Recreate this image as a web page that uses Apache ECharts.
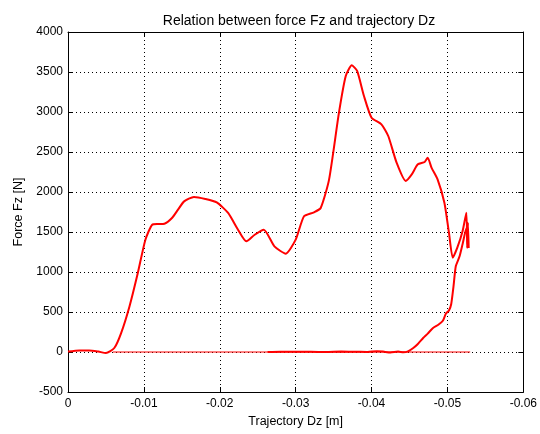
<!DOCTYPE html>
<html>
<head>
<meta charset="utf-8">
<script src="https://cdn.jsdelivr.net/npm/echarts@6/dist/echarts.min.js"></script>
<style>html,body{margin:0;padding:0;background:#fff}#c{width:540px;height:434px}</style>
</head>
<body>
<div id="c"></div>
<script>
// Forward trace (loading)
const dzForward = [0, -0.0015, -0.0028, -0.0040, -0.0050, -0.0061, -0.0070, -0.0081, -0.0092, -0.0102, -0.0111, -0.0119, -0.0127, -0.0137, -0.0145, -0.0153, -0.0166, -0.0181, -0.0196, -0.0211, -0.0224, -0.0235, -0.0246, -0.0258, -0.0272, -0.0287, -0.0300, -0.0311, -0.0324, -0.0333, -0.0344, -0.0357, -0.0366, -0.0374, -0.0381, -0.0390, -0.0400, -0.0413, -0.0422, -0.0433, -0.0445, -0.0453, -0.0461, -0.0470, -0.0474, -0.0479, -0.0487, -0.0496, -0.0502, -0.0507, -0.0513, -0.0520, -0.0525, -0.0526, -0.0527, -0.0528];
const fzForward = [5, 20, 20, 5, -13, 50, 237, 570, 988, 1404, 1591, 1600, 1604, 1675, 1780, 1883, 1938, 1913, 1870, 1738, 1529, 1383, 1466, 1529, 1321, 1229, 1404, 1696, 1746, 1800, 2154, 2988, 3450, 3584, 3513, 3200, 2929, 2846, 2700, 2367, 2138, 2221, 2346, 2375, 2429, 2304, 2158, 1866, 1491, 1179, 1304, 1513, 1742, 1300, 1617, 1300];
// Return trace (unloading)
const dzReturn = [-0.0525, -0.0520, -0.0516, -0.0511, -0.0508, -0.0505, -0.0502, -0.0498, -0.0494, -0.0488, -0.0481, -0.0474, -0.0468, -0.0461, -0.0455, -0.0448, -0.0442, -0.0435, -0.0425, -0.0415, -0.0407, -0.0395, -0.0380, -0.0360, -0.0340, -0.0320, -0.0300, -0.0280, -0.0263];
const fzReturn = [1550, 1350, 1196, 1071, 821, 600, 520, 480, 390, 340, 300, 230, 175, 100, 50, 8, -4, 5, -5, 5, 10, 0, 3, 5, 0, 3, 2, 4, 0];
// Thin zero baseline trace
const dzBase = [-0.0059, -0.0530];
const fzBase = [0, 0];
// Axis ticks
const xTicks = [0, -0.01, -0.02, -0.03, -0.04, -0.05, -0.06];
const yTicks = [-500, 0, 500, 1000, 1500, 2000, 2500, 3000, 3500, 4000];

const pairs = (xs, ys) => xs.map((x, i) => [x, ys[i]]);
const mainData = pairs(dzForward, fzForward).concat(pairs(dzReturn, fzReturn));
const font = 'Liberation Sans';
const fs = 12;
const fmtX = v => { const r = Math.round(v * 100) / 100; return r === 0 ? '0' : String(r); };
const fmtY = v => String(Math.round(v));

const chart = echarts.init(document.getElementById('c'), null, {renderer: 'canvas'});
const xCommon = {
  type: 'value', inverse: true,
  min: xTicks[xTicks.length - 1], max: xTicks[0], interval: 0.01,
  axisLine: {show: true, onZero: false, lineStyle: {color: '#000', width: 1}},
  axisTick: {show: true, inside: true, length: 5, lineStyle: {color: '#000'}}
};
const yCommon = {
  type: 'value', min: yTicks[0], max: yTicks[yTicks.length - 1], interval: 500,
  axisLine: {show: true, onZero: false, lineStyle: {color: '#000', width: 1}},
  axisTick: {show: true, inside: true, length: 5, lineStyle: {color: '#000'}}
};
chart.setOption({
  animation: false,
  backgroundColor: '#fff',
  title: {
    text: 'Relation between force Fz and trajectory Dz',
    left: 294, top: 9, textAlign: 'center',
    textStyle: {fontFamily: font, fontSize: 14, fontWeight: 'normal', color: '#000'}
  },
  grid: {left: 68, right: 12, top: 32, bottom: 42},
  xAxis: [
    Object.assign({}, xCommon, {
      position: 'bottom',
      name: 'Trajectory Dz [m]', nameLocation: 'middle', nameGap: 22,
      nameTextStyle: {fontFamily: font, fontSize: 12.5, color: '#000'},
      axisLabel: {formatter: fmtX, fontFamily: font, fontSize: fs, color: '#000', margin: 6},
      splitLine: {show: true, lineStyle: {color: '#000', type: [1, 3], width: 1}}
    }),
    Object.assign({}, xCommon, {position: 'top', axisLabel: {show: false}, splitLine: {show: false}})
  ],
  yAxis: [
    Object.assign({}, yCommon, {
      position: 'left',
      name: 'Force Fz [N]', nameLocation: 'middle', nameGap: 43, nameRotate: 90,
      nameTextStyle: {fontFamily: font, fontSize: 12.5, color: '#000'},
      axisLabel: {formatter: fmtY, fontFamily: font, fontSize: fs, color: '#000', margin: 5},
      splitLine: {show: true, lineStyle: {color: '#000', type: [1, 3], width: 1}}
    }),
    Object.assign({}, yCommon, {position: 'right', axisLabel: {show: false}, splitLine: {show: false}})
  ],
  series: [
    {
      type: 'line', data: pairs(dzBase, fzBase), symbol: 'none',
      lineStyle: {color: '#ff0000', width: 1}, z: 3
    },
    {
      type: 'line', data: mainData, symbol: 'none', smooth: 0.2,
      lineStyle: {color: '#ff0000', width: 2}, z: 4
    }
  ]
});
</script>
</body>
</html>
